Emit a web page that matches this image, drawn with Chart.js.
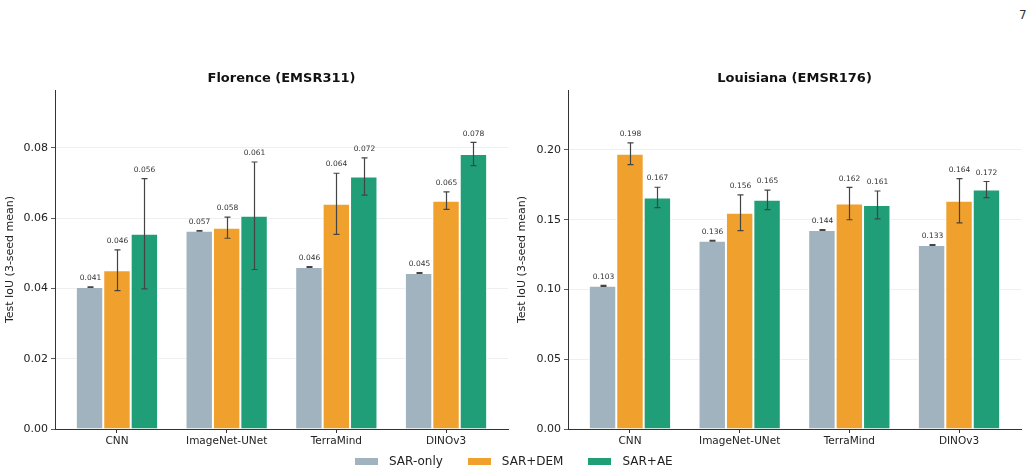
<!DOCTYPE html>
<html>
<head>
<meta charset="utf-8">
<script src="https://cdn.jsdelivr.net/npm/chart.js@4.4.1/dist/chart.umd.min.js"></script>
<style>
  body { margin: 0; background: #fff; width: 1034px; height: 476px; position: relative; overflow: hidden; font-family: "DejaVu Sans", sans-serif; }
  canvas { position: absolute; top: 0; }
  #florence { left: 0; }
  #louisiana { left: 512px; }
  #page { position: absolute; left: 1019px; top: 8px; font-size: 12px; color: #333; }
  #legend { position: absolute; left: 355px; top: 454px; display: flex; align-items: center; font-size: 12px; color: #222; }
  #legend .item { display: flex; align-items: center; margin-right: 25px; }
  #legend .box { width: 23px; height: 7px; margin-right: 11px; }
</style>
</head>
<body>
<div id="page">7</div>
<canvas id="florence" width="512" height="476"></canvas>
<canvas id="louisiana" width="522" height="476"></canvas>
<div id="legend"></div>
<script>
// Catégories et séries
const CATEGORIES = ["CNN", "ImageNet-UNet", "TerraMind", "DINOv3"];
const SERIES = ["SAR-only", "SAR+DEM", "SAR+AE"];
const COLORS = ["#a0b3bf", "#f0a02c", "#1f9e77"];

// Florence (EMSR311) : moyennes, écarts et étiquettes
const florenceSarOnly = [0.0404, 0.0564, 0.0461, 0.0444];
const florenceSarDem = [0.0452, 0.0573, 0.0641, 0.0650];
const florenceSarAe = [0.0556, 0.0607, 0.0719, 0.0783];
const florenceSarOnlyErr = [0.0001, 0.0001, 0.0001, 0.0001];
const florenceSarDemErr = [0.0058, 0.0030, 0.0087, 0.0025];
const florenceSarAeErr = [0.0157, 0.0153, 0.0053, 0.0033];
const florenceSarOnlyText = ["0.041", "0.057", "0.046", "0.045"];
const florenceSarDemText = ["0.046", "0.058", "0.064", "0.065"];
const florenceSarAeText = ["0.056", "0.061", "0.072", "0.078"];
const florenceTicks = [0, 0.02, 0.04, 0.06, 0.08];

// Louisiana (EMSR176)
const louisianaSarOnly = [0.1026, 0.1349, 0.1427, 0.1319];
const louisianaSarDem = [0.1973, 0.1550, 0.1616, 0.1636];
const louisianaSarAe = [0.1660, 0.1643, 0.1606, 0.1716];
const louisianaSarOnlyErr = [0.0003, 0.0003, 0.0003, 0.0003];
const louisianaSarDemErr = [0.0078, 0.0128, 0.0116, 0.0159];
const louisianaSarAeErr = [0.0073, 0.0070, 0.0100, 0.0058];
const louisianaSarOnlyText = ["0.103", "0.136", "0.144", "0.133"];
const louisianaSarDemText = ["0.198", "0.156", "0.162", "0.164"];
const louisianaSarAeText = ["0.167", "0.165", "0.161", "0.172"];
const louisianaTicks = [0, 0.05, 0.1, 0.15, 0.2];

const FONT = "DejaVu Sans";

// Barres d'erreur + valeurs au-dessus
const errorBarPlugin = {
  id: "errorBars",
  afterDatasetsDraw(chart) {
    const ctx = chart.ctx;
    const yScale = chart.scales.y;
    ctx.save();
    chart.data.datasets.forEach((ds, i) => {
      const meta = chart.getDatasetMeta(i);
      meta.data.forEach((bar, j) => {
        const m = ds.data[j].y;
        const e = ds.errors[j];
        const top = yScale.getPixelForValue(m + e);
        const bot = yScale.getPixelForValue(m - e);
        const x = Math.round(bar.x) + 0.5;
        ctx.strokeStyle = "#444";
        ctx.lineWidth = 1.2;
        ctx.beginPath();
        ctx.moveTo(x, top);
        ctx.lineTo(x, bot);
        ctx.moveTo(x - 3, top);
        ctx.lineTo(x + 3, top);
        ctx.moveTo(x - 3, bot);
        ctx.lineTo(x + 3, bot);
        ctx.stroke();

        ctx.fillStyle = "#333";
        ctx.font = "7.5px " + FONT;
        ctx.textAlign = "center";
        ctx.textBaseline = "bottom";
        ctx.fillText(ds.valueText[j], x, top - 5);
      });
    });
    ctx.restore();
  },
};

function makeDatasets(values, errors, texts) {
  return SERIES.map((name, s) => ({
    label: name,
    data: values[s].map((v, i) => ({ x: i, y: v })),
    errors: errors[s],
    valueText: texts[s],
    backgroundColor: COLORS[s],
    borderColor: "#ffffff",
    borderWidth: 1,
    categoryPercentage: 0.75,
    barPercentage: 1.0,
  }));
}

function makeChart(id, title, datasets, yMax, yTicks, yWidth, padRight) {
  return new Chart(document.getElementById(id).getContext("2d"), {
    type: "bar",
    data: { datasets: datasets },
    options: {
      responsive: false,
      animation: false,
      devicePixelRatio: 1,
      layout: { padding: { top: 71.2, right: padRight, bottom: 22, left: 0 } },
      plugins: {
        legend: { display: false },
        tooltip: { enabled: false },
        title: {
          display: true,
          text: title,
          fullSize: false,
          color: "#111",
          font: { family: FONT, size: 13, weight: "bold" },
          padding: { top: 0, bottom: 3.2 },
        },
      },
      scales: {
        x: {
          type: "linear",
          min: -0.565,
          max: 3.565,
          offset: false,
          afterBuildTicks: (s) => {
            s.ticks = CATEGORIES.map((_, i) => ({ value: i }));
          },
          afterFit: (s) => {
            s.height = 25;
          },
          ticks: {
            autoSkip: false,
            maxRotation: 0,
            padding: 2,
            color: "#222",
            font: { family: FONT, size: 10.5 },
            callback: (v) => CATEGORIES[v],
          },
          grid: { drawOnChartArea: false, offset: false, tickLength: 4, tickColor: "#333" },
          border: { color: "#333", width: 1 },
        },
        y: {
          min: 0,
          max: yMax,
          afterBuildTicks: (s) => {
            s.ticks = yTicks.map((v) => ({ value: v }));
          },
          afterFit: (s) => {
            s.width = yWidth;
          },
          ticks: {
            padding: 3,
            color: "#222",
            font: { family: FONT, size: 11 },
            callback: (v) => v.toFixed(2),
          },
          grid: { color: "#ebebeb", lineWidth: 0.8, tickLength: 4, tickColor: "#333" },
          border: { color: "#333", width: 1 },
          title: {
            display: true,
            text: "Test IoU (3-seed mean)",
            color: "#222",
            font: { family: FONT, size: 11 },
            padding: { top: 4, bottom: 0 },
          },
        },
      },
    },
    plugins: [errorBarPlugin],
  });
}

makeChart(
  "florence",
  "Florence (EMSR311)",
  makeDatasets(
    [florenceSarOnly, florenceSarDem, florenceSarAe],
    [florenceSarOnlyErr, florenceSarDemErr, florenceSarAeErr],
    [florenceSarOnlyText, florenceSarDemText, florenceSarAeText]
  ),
  0.0965,
  florenceTicks,
  55,
  4
);

makeChart(
  "louisiana",
  "Louisiana (EMSR176)",
  makeDatasets(
    [louisianaSarOnly, louisianaSarDem, louisianaSarAe],
    [louisianaSarOnlyErr, louisianaSarDemErr, louisianaSarAeErr],
    [louisianaSarOnlyText, louisianaSarDemText, louisianaSarAeText]
  ),
  0.243,
  louisianaTicks,
  56,
  13
);

// Légende commune
const legend = document.getElementById("legend");
SERIES.forEach((name, s) => {
  const item = document.createElement("div");
  item.className = "item";
  item.innerHTML = `<span class="box" style="background:${COLORS[s]}"></span><span>${name}</span>`;
  legend.appendChild(item);
});
</script>
</body>
</html>
